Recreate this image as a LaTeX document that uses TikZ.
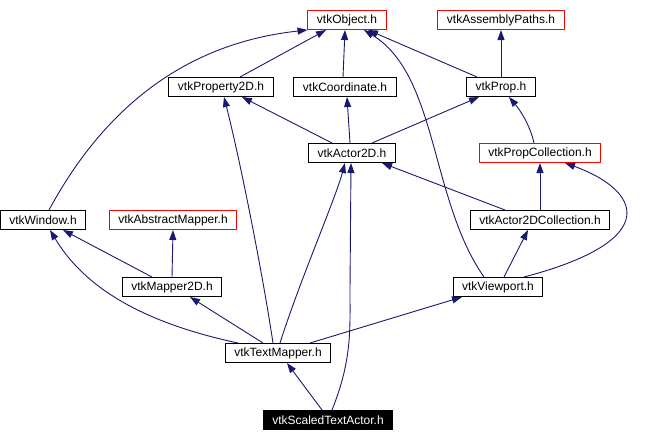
\documentclass[tikz,border=0pt]{standalone}
\usepackage{fontspec}
\setmainfont{Liberation Sans}
\usetikzlibrary{arrows.meta}
\definecolor{edge}{RGB}{25,25,112}
\definecolor{hot}{RGB}{255,0,0}
\tikzset{
  dfile/.style={draw=black,line width=1pt,fill=white,inner xsep=9pt,inner ysep=0pt,
    minimum height=19pt,font=\fontsize{12}{14}\selectfont},
  dred/.style={dfile,draw=hot},
  dcur/.style={dfile,fill=black,text=white},
  dinc/.style={edge,line width=0.9pt,-{Triangle[length=10pt,width=7pt]}},
}
\begin{document}
\begin{tikzpicture}[x=1pt,y=-1pt]
  \useasboundingbox (0,0) rectangle (664,442);
  \foreach \n/\x/\y/\lab/\s in {obj/347/20/vtkObject.h/dred,apaths/501/20/vtkAssemblyPaths.h/dred,
      prop2d/221/87/vtkProperty2D.h/dfile,coord/345/87/vtkCoordinate.h/dfile,prop/501/87/vtkProp.h/dfile,
      actor/352/153/vtkActor2D.h/dfile,pcoll/540/153/vtkPropCollection.h/dred,
      window/43/220/vtkWindow.h/dfile,amapper/173/220/vtkAbstractMapper.h/dred,
      acoll/540/220/vtkActor2DCollection.h/dfile,mapper/172/287/vtkMapper2D.h/dfile,
      viewport/498/287/vtkViewport.h/dfile,tmapper/278/353/vtkTextMapper.h/dfile,
      stactor/328/420/vtkScaledTextActor.h/dcur}
    {\node[\s] (\n) at (\x,\y) {\lab};}
  % into vtkObject.h
  \draw[dinc] (window.north) ++(6pt,0) .. controls (95,125) and (170,45) .. (obj.south west);
  \draw[dinc] ([xshift=19pt]prop2d.north) -- ([xshift=-21pt]obj.south);
  \draw[dinc] ([xshift=-2pt]coord.north) -- ([xshift=-2pt]obj.south);
  \draw[dinc] ([xshift=-24pt]prop.north) -- ([xshift=21pt]obj.south);
  \draw[dinc] ([xshift=-14pt]viewport.north) .. controls (430,200) and (438,75) .. ([xshift=17pt]obj.south);
  \draw[dinc] (prop.north) -- (apaths.south);
  % into vtkActor2D.h and its parts
  \draw[dinc] ([xshift=-20pt]actor.north) -- ([xshift=21pt]prop2d.south);
  \draw[dinc] ([xshift=-2pt]actor.north) -- ([xshift=2pt]coord.south);
  \draw[dinc] ([xshift=20pt]actor.north) -- ([xshift=-22pt]prop.south);
  \draw[dinc] ([xshift=-6pt]pcoll.north) .. controls (530,125) and (520,110) .. ([xshift=8pt]prop.south);
  \draw[dinc] ([xshift=-35pt]acoll.north) -- ([xshift=30pt]actor.south);
  \draw[dinc] (acoll.north) -- (pcoll.south);
  \draw[dinc] ([xshift=26pt]viewport.north) .. controls (665,240) and (640,190) .. ([xshift=25pt]pcoll.south);
  \draw[dinc] ([xshift=6pt]viewport.north) -- ([xshift=-12pt]acoll.south);
  % mappers
  \draw[dinc] ([xshift=-20pt]mapper.north) -- ([xshift=20pt]window.south);
  \draw[dinc] (mapper.north) -- (amapper.south);
  \draw[dinc] ([xshift=-40pt]tmapper.north) .. controls (130,320) and (80,280) .. ([xshift=7pt]window.south);
  \draw[dinc] ([xshift=-15pt]tmapper.north) -- ([xshift=18pt]mapper.south);
  \draw[dinc] ([xshift=-5pt]tmapper.north) .. controls (262,270) and (240,160) .. ([xshift=3pt]prop2d.south);
  \draw[dinc] ([xshift=2pt]tmapper.north) .. controls (300,280) and (335,200) .. ([xshift=-7pt]actor.south);
  \draw[dinc] ([xshift=32pt]tmapper.north) -- ([xshift=-36pt]viewport.south);
  % vtkScaledTextActor.h
  \draw[dinc] ([xshift=-6pt]stactor.north) -- ([xshift=9pt]tmapper.south);
  \draw[dinc] ([xshift=4pt]stactor.north) .. controls (352,360) and (350,330) .. (350,290) -- ([xshift=-1pt]actor.south);
\end{tikzpicture}
\end{document}
